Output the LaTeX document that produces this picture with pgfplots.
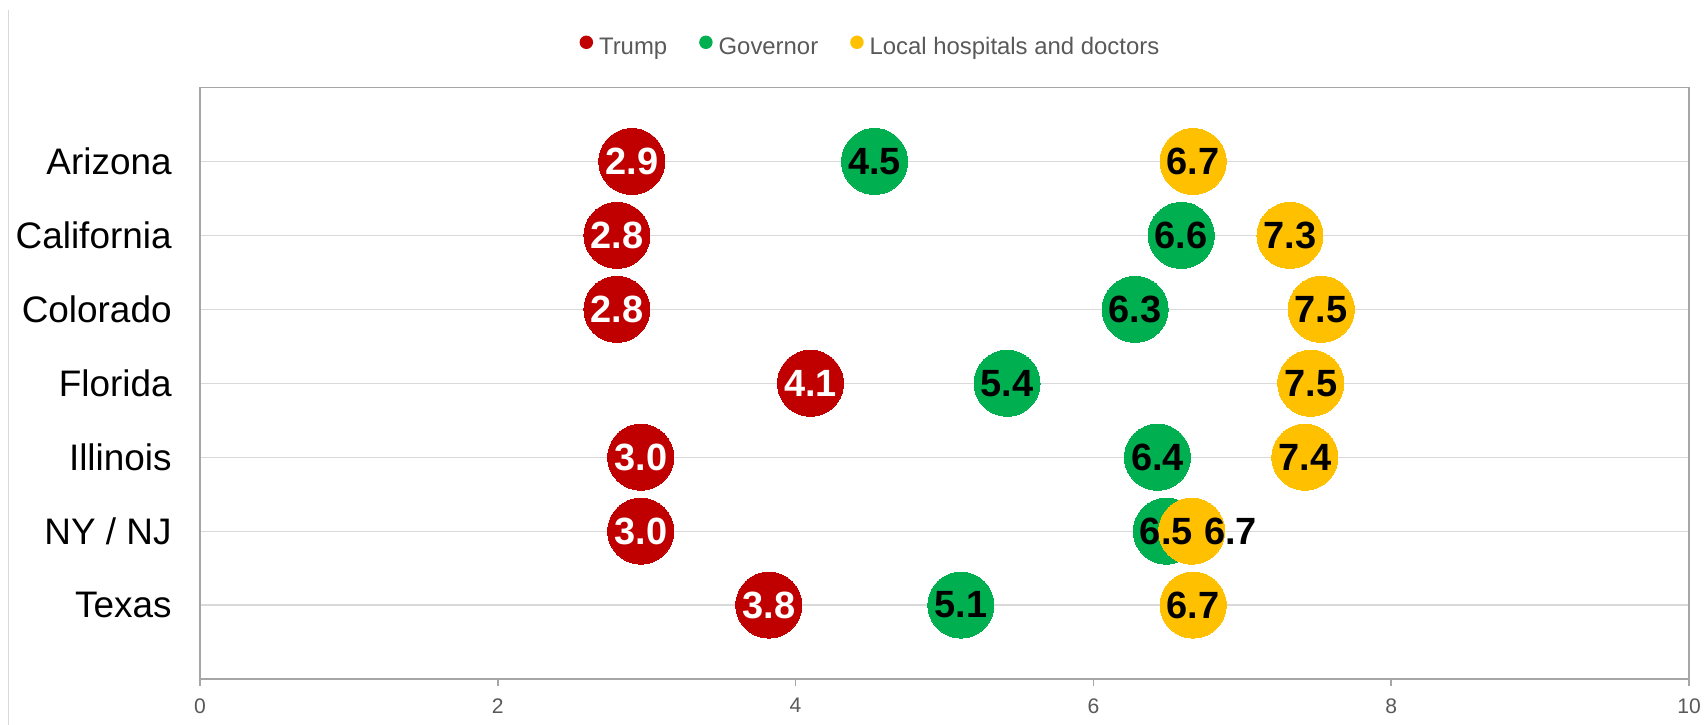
\documentclass[border=0pt]{standalone}
\usepackage{pgfplots}
\pgfplotsset{compat=1.18}
\usepackage{fontspec}
\setmainfont{Liberation Sans}
\definecolor{trumpred}{HTML}{C00000}
\definecolor{govgreen}{HTML}{00B050}
\definecolor{localyellow}{HTML}{FFC000}
\definecolor{framegray}{HTML}{A6A6A6}
\definecolor{gridgray}{HTML}{D9D9D9}
\definecolor{textgray}{HTML}{595959}
\newcommand{\labelfont}{\fontsize{10.8}{12}\selectfont\bfseries}
\begin{document}
\begin{tikzpicture}
\useasboundingbox (0,0) rectangle (170.4mm,72.5mm);
\draw[gridgray, line width=0.1mm] (0.8mm,0) -- (0.8mm,71.5mm);
\begin{axis}[
  at={(20.0mm,4.6mm)}, anchor=south west,
  scale only axis, width=148.9mm, height=59.15mm,
  xmin=0, xmax=10, ymin=0, ymax=8, y dir=reverse,
  xtick={0,2,...,10}, ytick={1,...,7},
  xtick pos=lower,
  yticklabels={Arizona,California,Colorado,Florida,Illinois,NY / NJ,Texas},
  axis line style={framegray, line width=0.17mm},
  ymajorgrids, grid style={gridgray, line width=0.12mm},
  tick align=outside, major tick length=0.7mm,
  xtick style={framegray, line width=0.17mm},
  ytick style={draw=none},
  /pgf/number format/assume math mode=true,
  x tick label style={font=\fontsize{6}{7}\selectfont, text=textgray},
  y tick label style={font=\fontsize{10.5}{12}\selectfont, text=black, xshift=-0.9mm},
  clip=false,
  legend columns=-1,
  legend style={at={(0.4506,1.0655)}, anchor=center, draw=none, fill=none,
    font=\fontsize{6.8}{8}\selectfont, text=textgray,
    nodes={inner sep=0.3mm},
    /tikz/every odd column/.append style={column sep=0.3mm},
    /tikz/every even column/.append style={column sep=2.9mm}},
]
\addplot[color=trumpred, only marks, mark=*, mark size=3.3mm, mark options={draw=trumpred, fill=trumpred, line width=0pt},
  legend image code/.code={\fill[trumpred] (0.6mm,0.65mm) circle (0.6mm);}]
  coordinates {(2.9,1) (2.8,2) (2.8,3) (4.1,4) (2.96,5) (2.96,6) (3.82,7)};
\addlegendentry{Trump}
\addplot[color=govgreen, only marks, mark=*, mark size=3.3mm, mark options={draw=govgreen, fill=govgreen, line width=0pt},
  legend image code/.code={\fill[govgreen] (0.6mm,0.65mm) circle (0.6mm);}]
  coordinates {(4.53,1) (6.59,2) (6.28,3) (5.42,4) (6.43,5) (6.49,6) (5.11,7)};
\addlegendentry{Governor}
\addplot[color=localyellow, only marks, mark=*, mark size=3.3mm, mark options={draw=localyellow, fill=localyellow, line width=0pt},
  legend image code/.code={\fill[localyellow] (0.6mm,0.65mm) circle (0.6mm);}]
  coordinates {(6.67,1) (7.32,2) (7.53,3) (7.46,4) (7.42,5) (6.66,6) (6.67,7)};
\addlegendentry{Local hospitals and doctors}
% labels
\addplot[draw=none, mark=none, forget plot, nodes near coords, point meta=explicit symbolic,
  nodes near coords align=center,
  every node near coord/.append style={font=\labelfont, text=white, inner sep=0pt}]
  coordinates {(2.9,1) [2.9] (2.8,2) [2.8] (2.8,3) [2.8] (4.1,4) [4.1] (2.96,5) [3.0] (2.96,6) [3.0] (3.82,7) [3.8]};
\addplot[draw=none, mark=none, forget plot, nodes near coords, point meta=explicit symbolic,
  nodes near coords align=center,
  every node near coord/.append style={font=\labelfont, text=black, inner sep=0pt}]
  coordinates {(4.53,1) [4.5] (6.59,2) [6.6] (6.28,3) [6.3] (5.42,4) [5.4] (6.43,5) [6.4] (6.49,6) [6.5] (5.11,7) [5.1]};
\addplot[draw=none, mark=none, forget plot, nodes near coords, point meta=explicit symbolic,
  nodes near coords align=center,
  every node near coord/.append style={font=\labelfont, text=black, inner sep=0pt}]
  coordinates {(6.67,1) [6.7] (7.32,2) [7.3] (7.53,3) [7.5] (7.46,4) [7.5] (7.42,5) [7.4] (6.67,7) [6.7]};
\addplot[draw=none, mark=none, forget plot, nodes near coords, point meta=explicit symbolic,
  nodes near coords align=center,
  every node near coord/.append style={font=\labelfont, text=black, inner sep=0pt, xshift=3.9mm}]
  coordinates {(6.66,6) [6.7]};
\end{axis}
\end{tikzpicture}
\end{document}
